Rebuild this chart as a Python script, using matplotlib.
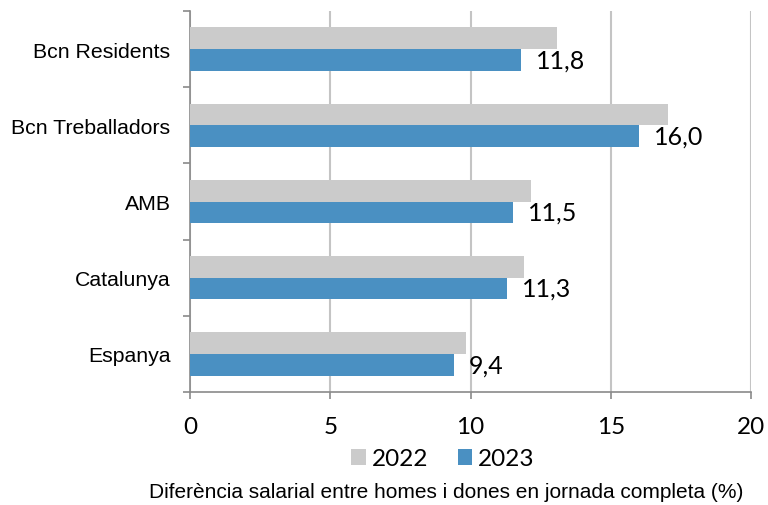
import matplotlib.pyplot as plt
import numpy as np
from matplotlib.patches import Patch

# data
categories = ["Bcn Residents", "Bcn Treballadors", "AMB", "Catalunya", "Espanya"]
values_2022 = [13.1, 17.05, 12.15, 11.9, 9.85]
values_2023 = [11.8, 16.0, 11.5, 11.3, 9.4]
series_labels = ["2022", "2023"]
x_ticks = [0, 5, 10, 15, 20]

GREY = "#cbcbcb"
BLUE = "#4a90c2"
GRID = "#c4c4c4"
AXIS = "#8a8a8a"
NUM_FONT = "Lato"
LBL_FONT = "Liberation Sans"

fig = plt.figure(figsize=(7.68, 5.06), dpi=100)
ax = fig.add_axes([190 / 768, 1 - 393 / 506, (751 - 190) / 768, (393 - 12) / 506])

y = np.arange(len(categories))
h = 0.285
ax.barh(y - h / 2, values_2022, height=h, color=GREY, zorder=3)
ax.barh(y + h / 2, values_2023, height=h, color=BLUE, zorder=3)

for yi, v in zip(y, values_2023):
    ax.text(v + 0.55, yi + h / 2, f"{v:.1f}".replace(".", ","),
            ha="left", va="center", fontsize=18, family=NUM_FONT, color="black")

ax.set_xlim(0, 20)
ax.set_ylim(len(categories) - 0.5, -0.5)

ax.set_xticks(x_ticks)
ax.set_xticklabels([str(t) for t in x_ticks], fontsize=17.5, family=NUM_FONT)
ax.tick_params(axis="x", direction="out", length=5, width=1.2, color=AXIS, pad=12.5)

ax.set_yticks(y)
ax.set_yticklabels(categories, fontsize=15.3, family=LBL_FONT)
ax.tick_params(axis="y", which="major", length=0, pad=14)
ax.set_yticks(np.arange(-0.5, len(categories), 1), minor=True)
ax.tick_params(axis="y", which="minor", direction="out", length=5, width=1.2, color=AXIS)

ax.grid(axis="x", color=GRID, linewidth=1.5, zorder=0)
ax.set_axisbelow(True)
for s in ("top", "right"):
    ax.spines[s].set_visible(False)
for s in ("left", "bottom"):
    ax.spines[s].set_color(AXIS)
    ax.spines[s].set_linewidth(1.2)

handles = [Patch(facecolor=GREY, edgecolor="none"), Patch(facecolor=BLUE, edgecolor="none")]
fig.legend(handles, series_labels, loc="center", bbox_to_anchor=(443 / 768, 1 - 460 / 506),
           ncol=2, frameon=False, prop={"family": NUM_FONT, "size": 17.5},
           handlelength=0.6, handleheight=0.6, handletextpad=0.25, columnspacing=1.2)

fig.text(446 / 768, 1 - 493 / 506, "Diferència salarial entre homes i dones en jornada completa (%)",
         ha="center", va="center", fontsize=15, family=LBL_FONT)

fig.savefig("out.png", dpi=100)
